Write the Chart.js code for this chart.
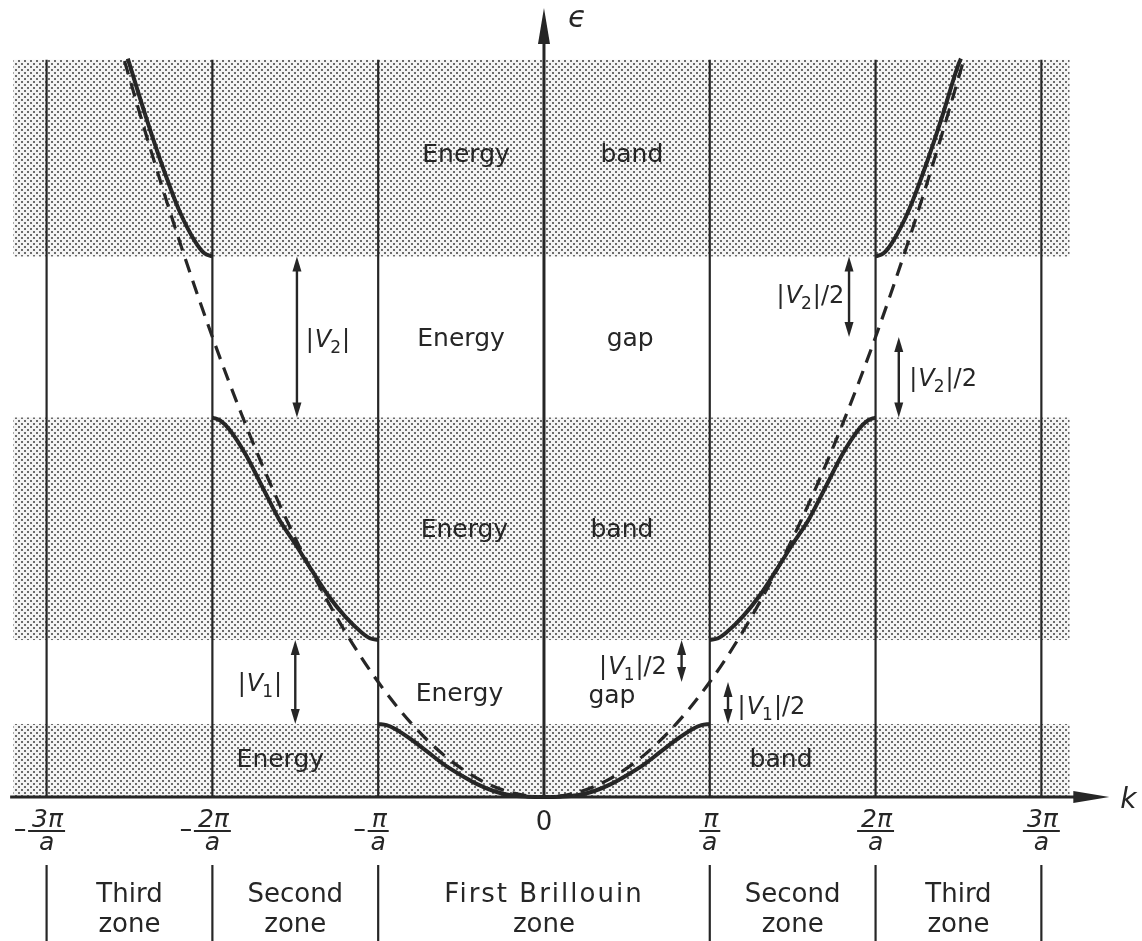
<!DOCTYPE html>
<html>
<head>
<meta charset="utf-8">
<script src="https://cdn.jsdelivr.net/npm/chart.js@4/dist/chart.umd.min.js"></script>
<style>
  html, body { margin: 0; padding: 0; background: #fff; }
  canvas { display: block; }
</style>
</head>
<body>
<canvas id="bands" width="1142" height="941"></canvas>
<script>
'use strict';

// k in units of pi/a, energy in units of the free-electron energy at k = pi/a
const freeK = [-2.53, -2.4, -2.2, -2.0, -1.8, -1.6, -1.4, -1.2, -1.0, -0.8, -0.6, -0.4, -0.2, 0,
               0.2, 0.4, 0.6, 0.8, 1.0, 1.2, 1.4, 1.6, 1.8, 2.0, 2.2, 2.4, 2.53];
const freeE = [6.40, 5.76, 4.84, 4.00, 3.24, 2.56, 1.96, 1.44, 1.00, 0.64, 0.36, 0.16, 0.04, 0,
               0.04, 0.16, 0.36, 0.64, 1.00, 1.44, 1.96, 2.56, 3.24, 4.00, 4.84, 5.76, 6.40];

const band1K = [-1, -0.95, -0.9, -0.8, -0.7, -0.6, -0.5, -0.4, -0.3, -0.2, -0.1, 0,
                0.1, 0.2, 0.3, 0.4, 0.5, 0.6, 0.7, 0.8, 0.9, 0.95, 1];
const band1E = [0.635, 0.625, 0.594, 0.50, 0.39, 0.28, 0.19, 0.11, 0.05, 0.015, 0.003, 0,
                0.003, 0.015, 0.05, 0.11, 0.19, 0.28, 0.39, 0.50, 0.594, 0.625, 0.635];

const band2LeftK  = [-2, -1.95, -1.9, -1.8, -1.7, -1.6, -1.5, -1.4, -1.3, -1.2, -1.1, -1.05, -1];
const band2LeftE  = [3.30, 3.27, 3.20, 2.98, 2.70, 2.42, 2.20, 1.97, 1.75, 1.57, 1.43, 1.38, 1.365];
const band2RightK = [1, 1.05, 1.1, 1.2, 1.3, 1.4, 1.5, 1.6, 1.7, 1.8, 1.9, 1.95, 2];
const band2RightE = [1.365, 1.38, 1.43, 1.57, 1.75, 1.97, 2.20, 2.42, 2.70, 2.98, 3.20, 3.27, 3.30];

const band3LeftK  = [-2.51, -2.4, -2.3, -2.2, -2.1, -2.05, -2];
const band3LeftE  = [6.42, 5.91, 5.48, 5.10, 4.82, 4.73, 4.70];
const band3RightK = [2, 2.05, 2.1, 2.2, 2.3, 2.4, 2.5, 2.515];
const band3RightE = [4.70, 4.73, 4.82, 5.10, 5.48, 5.91, 6.37, 6.42];

// allowed energy bands (shaded)
const bandLow  = [0, 1.365, 4.70];
const bandHigh = [0.635, 3.30, 6.41];

// zone boundaries and tick labels
const zoneEdges = [-3, -2, -1, 1, 2, 3];
const tickK     = [-3, -2, -1, 0, 1, 2, 3];
const tickNum   = ['3π', '2π', 'π', '0', 'π', '2π', '3π'];
const tickMinus = [true, true, true, false, false, false, false];

const zoneNames  = [['Third', 'zone'], ['Second', 'zone'], ['First Brillouin', 'zone'], ['Second', 'zone'], ['Third', 'zone']];
const zoneCenter = [-2.5, -1.5, 0, 1.5, 2.5];

// text inside the plot: [text, k, energy]
const plotTexts = [
  ['Energy', -0.47, 5.58], ['band', 0.53, 5.58],
  ['Energy', -0.50, 3.98], ['gap', 0.52, 3.98],
  ['Energy', -0.48, 2.32], ['band', 0.47, 2.32],
  ['Energy', -0.51, 0.89], ['gap', 0.41, 0.87],
  ['Energy', -1.59, 0.32], ['band', 1.43, 0.32]
];

// gap size arrows: k, from, to, subscript, suffix, label k, label energy
const gapArrows = [
  { k: -1.49, from: 3.30,  to: 4.70,  sub: '2', suf: '|',   lk: -1.30, le: 3.99 },
  { k: -1.50, from: 0.635, to: 1.365, sub: '1', suf: '|',   lk: -1.71, le: 1.00 },
  { k: 1.84,  from: 4.00,  to: 4.70,  sub: '2', suf: '|/2', lk: 1.61,  le: 4.37 },
  { k: 2.14,  from: 3.30,  to: 4.00,  sub: '2', suf: '|/2', lk: 2.41,  le: 3.65 },
  { k: 0.83,  from: 1.00,  to: 1.365, sub: '1', suf: '|/2', lk: 0.54,  le: 1.15 },
  { k: 1.11,  from: 0.635, to: 1.00,  sub: '1', suf: '|/2', lk: 1.375, le: 0.80 }
];

const INK = '#262626';
const FONT = '"DejaVu Sans", sans-serif';

function pts(ks, es){ return ks.map((k, i) => ({ x: k, y: es[i] })); }

function stipple(ctx){
  const c = document.createElement('canvas'); c.width = 6; c.height = 6;
  const g = c.getContext('2d');
  g.fillStyle = '#f4f4f4'; g.fillRect(0, 0, 6, 6);
  g.fillStyle = '#6c6c6c'; g.fillRect(0, 0, 2, 2); g.fillRect(3, 3, 2, 2);
  return ctx.createPattern(c, 'repeat');
}

function head(ctx, x, y, dx, dy, len, half){
  const bx = x - dx * len, by = y - dy * len;
  ctx.beginPath();
  ctx.moveTo(x, y);
  ctx.lineTo(bx - dy * half, by + dx * half);
  ctx.lineTo(bx + dy * half, by - dx * half);
  ctx.closePath(); ctx.fill();
}

function vLabel(ctx, cx, cy, sub, suf){
  const big = 'italic 24px ' + FONT, up = '24px ' + FONT, small = '17px ' + FONT;
  const parts = [['|', up, 0], ['V', big, 0], [sub, small, 6], [suf, up, 0]];
  let w = 0;
  parts.forEach(p => { ctx.font = p[1]; w += ctx.measureText(p[0]).width + (p[0] === 'V' ? -1 : 1); });
  let x = cx - w / 2;
  ctx.textAlign = 'left'; ctx.textBaseline = 'alphabetic';
  parts.forEach(p => {
    ctx.font = p[1];
    ctx.fillText(p[0], x, cy + 9 + p[2]);
    x += ctx.measureText(p[0]).width + (p[0] === 'V' ? -1 : 1);
  });
}

const diagram = {
  id: 'diagram',
  beforeDatasetsDraw(chart){
    const { ctx, scales: { x, y } } = chart;
    ctx.save();
    ctx.fillStyle = stipple(ctx);
    const l = x.getPixelForValue(-3.2), r = x.getPixelForValue(3.17);
    bandLow.forEach((lo, i) => {
      const t = y.getPixelForValue(bandHigh[i]), b = y.getPixelForValue(lo);
      ctx.fillRect(l, t, r - l, b - t);
    });
    ctx.strokeStyle = INK; ctx.lineWidth = 2.2;
    zoneEdges.forEach(k => {
      const px = x.getPixelForValue(k);
      ctx.beginPath(); ctx.moveTo(px, y.getPixelForValue(6.41)); ctx.lineTo(px, y.getPixelForValue(0)); ctx.stroke();
    });
    ctx.restore();
  },
  afterDatasetsDraw(chart){
    const { ctx, scales: { x, y } } = chart;
    const y0 = y.getPixelForValue(0), x0 = x.getPixelForValue(0);
    ctx.save();
    ctx.strokeStyle = INK; ctx.fillStyle = INK;

    // axes with arrows
    ctx.lineWidth = 3;
    const xl = x.getPixelForValue(-3.22), xr = x.getPixelForValue(3.41);
    ctx.beginPath(); ctx.moveTo(xl, y0); ctx.lineTo(xr - 30, y0); ctx.stroke();
    head(ctx, xr, y0, 1, 0, 36, 6);
    const yt = y.getPixelForValue(6.86);
    ctx.beginPath(); ctx.moveTo(x0, y0); ctx.lineTo(x0, yt + 30); ctx.stroke();
    head(ctx, x0, yt, 0, -1, 36, 6);
    ctx.font = 'italic 28px ' + FONT; ctx.textAlign = 'left'; ctx.textBaseline = 'alphabetic';
    ctx.fillText('k', xr + 11, y0 + 11);
    ctx.font = 'italic 30px ' + FONT;
    ctx.fillText('ϵ', x0 + 24, yt + 19);

    // texts in the plot
    ctx.font = '25px ' + FONT; ctx.textAlign = 'center'; ctx.textBaseline = 'middle';
    plotTexts.forEach(t => ctx.fillText(t[0], x.getPixelForValue(t[1]), y.getPixelForValue(t[2])));

    // gap arrows
    ctx.lineWidth = 2.4;
    gapArrows.forEach(a => {
      const px = x.getPixelForValue(a.k), p1 = y.getPixelForValue(a.from), p2 = y.getPixelForValue(a.to);
      ctx.beginPath(); ctx.moveTo(px, p1 - 10); ctx.lineTo(px, p2 + 10); ctx.stroke();
      head(ctx, px, p1, 0, 1, 15, 4.5);
      head(ctx, px, p2, 0, -1, 15, 4.5);
      vLabel(ctx, x.getPixelForValue(a.lk), y.getPixelForValue(a.le), a.sub, a.suf);
    });

    // tick labels as fractions
    tickK.forEach((k, i) => {
      const cx = x.getPixelForValue(k);
      ctx.textAlign = 'center'; ctx.textBaseline = 'alphabetic';
      if (tickNum[i] === '0'){
        ctx.font = '26px ' + FONT;
        ctx.fillText('0', cx, y0 + 33);
        return;
      }
      ctx.font = 'italic 25px ' + FONT;
      const w = ctx.measureText(tickNum[i]).width;
      ctx.fillText(tickNum[i], cx + 1, y0 + 30);
      ctx.lineWidth = 2;
      ctx.beginPath(); ctx.moveTo(cx - w / 2 - 3, y0 + 34); ctx.lineTo(cx + w / 2 + 3, y0 + 34); ctx.stroke();
      ctx.fillText('a', cx, y0 + 53);
      if (tickMinus[i]){
        const ml = cx - w / 2 - 16;
        ctx.beginPath(); ctx.moveTo(ml, y0 + 33); ctx.lineTo(ml + 10, y0 + 33); ctx.stroke();
      }
    });

    // zone labels below the axis
    ctx.lineWidth = 2.2;
    zoneEdges.forEach(k => {
      const px = x.getPixelForValue(k);
      ctx.beginPath(); ctx.moveTo(px, y0 + 68); ctx.lineTo(px, chart.height); ctx.stroke();
    });
    ctx.font = '26px ' + FONT; ctx.textAlign = 'center'; ctx.textBaseline = 'alphabetic';
    zoneNames.forEach((n, i) => {
      const cx = x.getPixelForValue(zoneCenter[i]);
      ctx.letterSpacing = n[0].length > 10 ? '2px' : '0px';
      ctx.fillText(n[0], cx, y0 + 105);
      ctx.letterSpacing = '0px';
      ctx.fillText(n[1], cx, y0 + 135);
    });
    ctx.restore();
  }
};

const solid = { showLine: true, pointRadius: 0, borderColor: INK, borderWidth: 4, cubicInterpolationMode: 'monotone', fill: false };

new Chart(document.getElementById('bands'), {
  type: 'scatter',
  data: { datasets: [
    { ...solid, label: 'Band 1', data: pts(band1K, band1E) },
    { ...solid, label: 'Band 2 left', data: pts(band2LeftK, band2LeftE) },
    { ...solid, label: 'Band 2 right', data: pts(band2RightK, band2RightE) },
    { ...solid, label: 'Band 3 left', data: pts(band3LeftK, band3LeftE) },
    { ...solid, label: 'Band 3 right', data: pts(band3RightK, band3RightE) },
    { ...solid, label: 'Free electron', data: pts(freeK, freeE), borderWidth: 3.2, borderDash: [14, 9] }
  ] },
  options: {
    responsive: false, animation: false, devicePixelRatio: 1,
    layout: { padding: 0 },
    plugins: { legend: { display: false }, tooltip: { enabled: false } },
    scales: {
      x: { type: 'linear', min: -3.281, max: 3.607, display: false },
      y: { type: 'linear', min: -1.252, max: 6.930, display: false }
    }
  },
  plugins: [diagram]
});
</script>
</body>
</html>
